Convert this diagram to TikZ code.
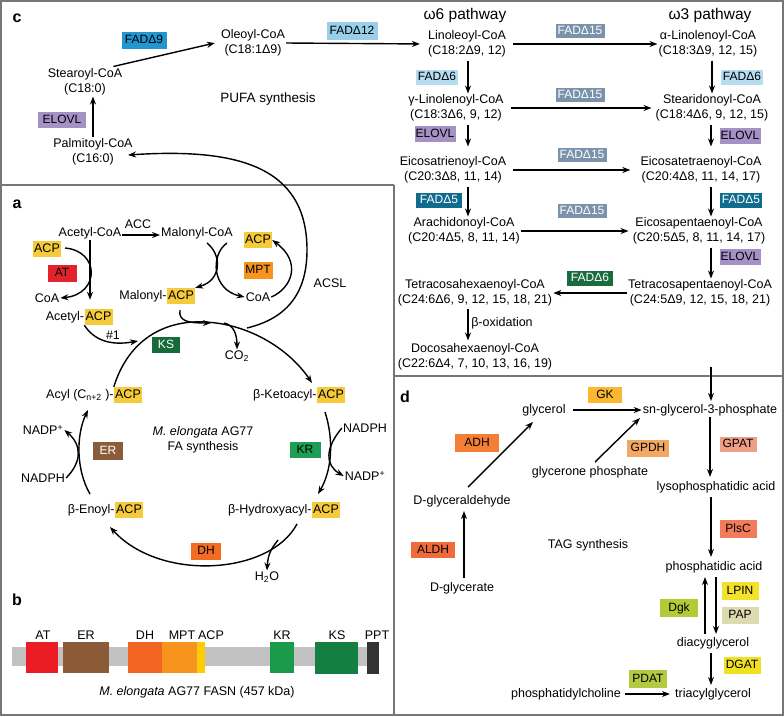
\documentclass[tikz,border=0pt]{standalone}
\usepackage{fontspec}
\setmainfont{Liberation Sans}
\usetikzlibrary{arrows.meta}
\definecolor{framegray}{HTML}{767676}
\definecolor{acpy}{HTML}{F6CB3B}
\definecolor{atc}{HTML}{E3232B}
\definecolor{mptc}{HTML}{F7941E}
\definecolor{ksc}{HTML}{156B3A}
\definecolor{krc}{HTML}{1E9E55}
\definecolor{erc}{HTML}{8B5C3B}
\definecolor{dhc}{HTML}{F26C24}
\definecolor{fadnine}{HTML}{2396D0}
\definecolor{fadtwelve}{HTML}{98CFE9}
\definecolor{elovlc}{HTML}{A691C6}
\definecolor{fadfifteen}{HTML}{7A93AA}
\definecolor{fadsixl}{HTML}{B5DCF0}
\definecolor{fadfive}{HTML}{106C8E}
\definecolor{fadsixd}{HTML}{1A6B3E}
\definecolor{gkc}{HTML}{FBB72F}
\definecolor{adhc}{HTML}{F47F34}
\definecolor{gpdhc}{HTML}{F2A862}
\definecolor{gpatc}{HTML}{EF9F86}
\definecolor{aldhc}{HTML}{F06A3B}
\definecolor{plscc}{HTML}{F27B5C}
\definecolor{lpinc}{HTML}{F2E22C}
\definecolor{papc}{HTML}{DDDAB0}
\definecolor{dgkc}{HTML}{B4CB38}
\definecolor{dgatc}{HTML}{EFE121}
\definecolor{pdatc}{HTML}{B3C93F}
\definecolor{bAT}{HTML}{EC1C24}
\definecolor{bER}{HTML}{8B5A36}
\definecolor{bDH}{HTML}{F26522}
\definecolor{bMPT}{HTML}{F7941D}
\definecolor{bACP}{HTML}{FFCB05}
\definecolor{bKR}{HTML}{1B9A4B}
\definecolor{bKS}{HTML}{138041}
\definecolor{bPPT}{HTML}{333333}
\definecolor{bargray}{HTML}{C2C2C2}
\begin{document}
\begin{tikzpicture}[x=1pt,y=-1pt,
  txt/.style={font=\fontsize{12.5}{15}\selectfont, align=center, inner sep=1pt},
  enz/.style={font=\fontsize{12}{13}\selectfont, inner sep=0pt, minimum width=30pt, minimum height=16pt, text height=8.8pt, text depth=2pt},
  acp/.style={fill=acpy, font=\fontsize{12.5}{15}\selectfont, inner sep=0pt, minimum width=28pt, minimum height=16pt, text height=9pt, text depth=2.5pt},
  arr/.style={-{Stealth[length=8pt,width=6pt]}, line width=1.4pt},
  lab/.style={font=\fontsize{16}{18}\selectfont\bfseries, inner sep=0pt},
  frameln/.style={draw=framegray, line width=2pt}
]
\useasboundingbox (0,0) rectangle (784,716);
\fill[white] (0,0) rectangle (784,716);
% frames
\draw[frameln] (1,1) rectangle (783,715);
\draw[frameln] (0,185) -- (394,185);
\draw[frameln] (394,185) -- (394,716);
\draw[frameln] (394,376) -- (784,376);

% ================= panel c =================
\node[lab] (labc) at (17,18) {c};
\node[enz, fill=fadnine, minimum width=45pt, minimum height=17pt] (e9) at (144,40) {FADΔ9};
\node[txt] (oleoyl) at (253,43) {Oleoyl-CoA\\(C18:1Δ9)};
\node[txt] (stearoyl) at (85,82) {Stearoyl-CoA\\(C18:0)};
\node[enz, fill=elovlc, minimum width=48pt] (el1) at (62,120) {ELOVL};
\node[txt] (palm) at (93,152) {Palmitoyl-CoA\\(C16:0)};
\node[txt, font=\fontsize{13.5}{16}\selectfont] (pufa) at (268,99) {PUFA synthesis};
\node[enz, fill=fadtwelve, minimum width=51pt, minimum height=18pt] (e12) at (352,31) {FADΔ12};

\draw[arr] ([xshift=-10pt,yshift=1pt]stearoyl.north east) -- ([xshift=-5pt]oleoyl.west);
\draw[arr] (palm.north) -- (palm.north |- stearoyl.south);

\node[txt, font=\fontsize{15.5}{18}\selectfont] (w6) at (465,15) {ω6 pathway};
\node[txt, font=\fontsize{15.5}{18}\selectfont] (w3) at (710,15) {ω3 pathway};
\node[txt] (lin) at (467,44) {Linoleoyl-CoA\\(C18:2Δ9, 12)};
\node[txt] (alin) at (708,44) {α-Linolenoyl-CoA\\(C18:3Δ9, 12, 15)};
\node[txt] (glin) at (456,108) {γ-Linolenoyl-CoA\\(C18:3Δ6, 9, 12)};
\node[txt] (stear) at (712,108) {Stearidonoyl-CoA\\(C18:4Δ6, 9, 12, 15)};
\node[txt] (etri) at (453,170) {Eicosatrienoyl-CoA\\(C20:3Δ8, 11, 14)};
\node[txt] (etet) at (701,170) {Eicosatetraenoyl-CoA\\(C20:4Δ8, 11, 14, 17)};
\node[txt] (arach) at (464,231) {Arachidonoyl-CoA\\(C20:4Δ5, 8, 11, 14)};
\node[txt] (epa) at (699,231) {Eicosapentaenoyl-CoA\\(C20:5Δ5, 8, 11, 14, 17)};
\node[txt] (tpa) at (700,293) {Tetracosapentaenoyl-CoA\\(C24:5Δ9, 12, 15, 18, 21)};
\node[txt] (tha) at (475,293) {Tetracosahexaenoyl-CoA\\(C24:6Δ6, 9, 12, 15, 18, 21)};
\node[txt] (dha) at (475,357) {Docosahexaenoyl-CoA\\(C22:6Δ4, 7, 10, 13, 16, 19)};
\node[txt] (boxi) at (502,323) {β-oxidation};

\draw[arr, shorten >=7pt] (oleoyl.east) -- (lin.west);

\node[enz, fill=fadfifteen, text=white, minimum width=49pt, minimum height=14pt] (f15a) at (580,31) {FADΔ15};
\node[enz, fill=fadfifteen, text=white, minimum width=49pt, minimum height=14pt] (f15b) at (580,95) {FADΔ15};
\node[enz, fill=fadfifteen, text=white, minimum width=49pt, minimum height=14pt] (f15c) at (582,155) {FADΔ15};
\node[enz, fill=fadfifteen, text=white, minimum width=49pt, minimum height=14pt] (f15d) at (582,211) {FADΔ15};
\node[enz, fill=fadsixl, minimum width=42pt, minimum height=15pt] (f6a) at (437,77) {FADΔ6};
\node[enz, fill=fadsixl, minimum width=42pt, minimum height=15pt] (f6b) at (742,77) {FADΔ6};
\node[enz, fill=elovlc, minimum width=41pt] (el2) at (435,134) {ELOVL};
\node[enz, fill=elovlc, minimum width=41pt] (el3) at (740,136) {ELOVL};
\node[enz, fill=fadfive, text=white, minimum width=46pt, minimum height=15pt] (f5a) at (439,200) {FADΔ5};
\node[enz, fill=fadfive, text=white, minimum width=42pt, minimum height=15pt] (f5b) at (741,200) {FADΔ5};
\node[enz, fill=elovlc, minimum width=41pt] (el4) at (740,257) {ELOVL};
\node[enz, fill=fadsixd, text=white, minimum width=46pt, minimum height=15pt] (f6d) at (590,278) {FADΔ6};

% horizontal arrows
\draw[arr, shorten <=6pt] (lin.east) -- (alin.west);
\draw[arr, shorten <=6pt, shorten >=3pt] (glin.east) -- (glin.east -| stear.west);
\draw[arr, shorten <=6pt, shorten >=9pt] (etri.east) -- (etri.east -| etet.west);
\draw[arr, shorten >=3pt] (arach.east) -- (arach.east -| epa.west);
\draw[arr] (tpa.west) -- (tpa.west -| tha.east);
% vertical arrows left
\draw[arr, shorten <=2pt] ([xshift=1pt]lin.south) -- ([xshift=1pt]lin.south |- glin.north);
\draw[arr, shorten <=2pt, shorten >=9pt] ([xshift=12pt]glin.south) -- ([xshift=12pt]glin.south |- etri.north);
\draw[arr, shorten <=2pt] ([xshift=15pt]etri.south) -- ([xshift=15pt]etri.south |- arach.north);
\draw[arr, shorten <=1pt, shorten >=2pt] ([xshift=-7pt]tha.south) -- ([xshift=-7pt]tha.south |- dha.north);
% vertical arrows right
\draw[arr, shorten <=2pt] ([xshift=4pt]alin.south) -- ([xshift=4pt]alin.south |- stear.north);
\draw[arr, shorten <=2pt, shorten >=9pt] ([xshift=-1pt]stear.south) -- ([xshift=-1pt]stear.south |- etet.north);
\draw[arr, shorten <=2pt] ([xshift=10pt]etet.south) -- ([xshift=10pt]etet.south |- epa.north);
\draw[arr, shorten <=2pt] ([xshift=12pt]epa.south) -- ([xshift=12pt]epa.south |- tpa.north);

% ================= panel a =================
\node[lab] (laba) at (17,204) {a};
\node[txt] (acoa) at (90,233) {Acetyl-CoA};
\node[txt] (mcoa) at (197,233) {Malonyl-CoA};
\node[txt] (acc) at (138,224) {ACC};
\draw[arr] ([yshift=-2pt]acoa.east) -- ([yshift=-2pt]mcoa.west);

\node[acp] (acpL) at (47,249) {ACP};
\node[acp] (acpR) at (258,240) {ACP};
\node[enz, fill=atc, minimum width=29pt, minimum height=17pt] (at) at (62,273) {AT};
\node[enz, fill=mptc, minimum width=29pt, minimum height=17pt] (mpt) at (258,270) {MPT};
\node[txt] (coaL) at (47,298) {CoA};
\node[txt] (coaR) at (258,297) {CoA};
\node[acp] (aacp) at (98.5,317) {ACP};
\node[txt, anchor=east, inner sep=0pt] (aacpt) at (aacp.west) {Acetyl-};
\node[acp] (macp) at (181,296) {ACP};
\node[txt, anchor=east, inner sep=0pt] (macpt) at (macp.west) {Malonyl-};
\node[enz, fill=ksc, text=white, minimum width=28pt] (ks) at (166,345) {KS};
\node[txt] (hash) at (113,335) {\#1};
\node[txt] (co2) at (237,356) {CO\textsubscript{2}};
\node[txt] (acsl) at (330,283) {ACSL};
\node[acp] (yacp) at (128,395) {ACP};
\node[txt, anchor=east, inner sep=0pt] (yacpt) at (yacp.west) {Acyl (C\textsubscript{n+2} )-};
\node[acp] (kacp) at (331,395) {ACP};
\node[txt, anchor=east, inner sep=0pt] (kacpt) at (kacp.west) {β-Ketoacyl-};
\node[acp] (hacp) at (326,510) {ACP};
\node[txt, anchor=east, inner sep=0pt] (hacpt) at (hacp.west) {β-Hydroxyacyl-};
\node[acp] (eacp) at (129,510) {ACP};
\node[txt, anchor=east, inner sep=0pt] (eacpt) at (eacp.west) {β-Enoyl-};
\node[enz, fill=krc, minimum width=31pt] (kr) at (305,450) {KR};
\node[enz, fill=erc, text=white, minimum width=30pt, minimum height=18pt] (er) at (108,451) {ER};
\node[enz, fill=dhc, minimum width=30pt, minimum height=17pt] (dh) at (206,551) {DH};
\node[txt] (nadphR) at (365,428) {NADPH};
\node[txt] (nadpR) at (365,476) {NADP\textsuperscript{+}};
\node[txt] (nadpL) at (43,430) {NADP\textsuperscript{+}};
\node[txt] (nadphL) at (43,478) {NADPH};
\node[txt] (h2o) at (267,577) {H\textsubscript{2}O};
\node[txt] (fa) at (203,440) {\textit{M. elongata} AG77\\FA synthesis};

% loading
\draw[arr, shorten >=9pt] (acoa.south) -- (acoa.south |- aacp.north);
\draw[arr] (65,248) .. controls (100,251) and (100,294) .. (coaL.east);
\draw[arr] (207,243) .. controls (222,255) and (222,280) .. (macp.north east);
\draw[arr] (227,243) .. controls (210,255) and (212,290) .. (coaR.west);
\draw[arr] (coaR.east) .. controls (292,288) and (302,262) .. (acpR.east);
% KS arc
\draw[arr] (yacp.north west) .. controls (130,335) and (170,320) .. (205,322)
   .. controls (250,324) and (290,350) .. (312,383);
\draw[arr] (aacp.south west) .. controls (94,340) and (110,346) .. (138,341);
\draw[arr] (180,310) .. controls (178,322) and (190,323) .. (211,323);
\draw[arr] (224,323) .. controls (234,325) and (237,335) .. (co2.north);
% ACSL
\draw[arr] (247,328) .. controls (280,320) and (307,300) .. (307,250)
   .. controls (307,165) and (235,148) .. (128,155);
% KR
\draw[arr] (325,412) .. controls (334,440) and (332,470) .. (318,494);
\draw[arr] (nadphR.west) .. controls (325,448) and (325,465) .. (nadpR.west);
% DH
\draw[arr] (297,524) .. controls (270,575) and (160,582) .. (110,527);
\draw[arr] (278,540) .. controls (272,548) and (268,553) .. (h2o.north);
% ER
\draw[arr] (90,494) .. controls (76,470) and (76,435) .. (88,410);
\draw[arr] (nadphL.east) .. controls (82,462) and (82,445) .. (nadpL.east);

% ================= panel b =================
\node[lab] (labb) at (17,600) {b};
\fill[bargray] (12,647) rectangle (378,666);
\fill[bAT] (26,642) rectangle (58,673);
\fill[bER] (63,642) rectangle (109,673);
\fill[bDH] (128,642) rectangle (162,673);
\fill[bMPT] (162,642) rectangle (197,673);
\fill[bACP] (197,642) rectangle (205,673);
\fill[bKR] (270,642) rectangle (294,673);
\fill[bKS] (315,642) rectangle (358,674);
\fill[bPPT] (367,642) rectangle (379,674);
\node[txt] (tAT) at (43,635) {AT};
\node[txt] (tER) at (86,635) {ER};
\node[txt] (tDH) at (145,635) {DH};
\node[txt] (tMPT) at (182,635) {MPT};
\node[txt] (tACP) at (211,635) {ACP};
\node[txt] (tKR) at (282,635) {KR};
\node[txt] (tKS) at (337,635) {KS};
\node[txt] (tPPT) at (377,635) {PPT};
\node[txt] (fasn) at (197,692) {\textit{M. elongata} AG77 FASN (457 kDa)};

% ================= panel d =================
\node[lab] (labd) at (405,397) {d};
\node[enz, fill=gkc, minimum width=34pt] (gk) at (605,395) {GK};
\node[txt] (glycerol) at (544,410) {glycerol};
\node[txt] (g3p) at (710,410) {sn-glycerol-3-phosphate};
\node[enz, fill=adhc, minimum width=44pt, minimum height=18pt] (adh) at (477,443) {ADH};
\node[enz, fill=gpdhc, minimum width=42pt, minimum height=17pt] (gpdh) at (648,448) {GPDH};
\node[txt] (gp) at (590,472) {glycerone phosphate};
\node[enz, fill=gpatc, minimum width=37pt, minimum height=15pt] (gpat) at (738,444) {GPAT};
\node[txt] (lpa) at (716,487) {lysophosphatidic acid};
\node[txt] (dgald) at (462,501) {D-glyceraldehyde};
\node[enz, fill=aldhc, minimum width=44pt] (aldh) at (433,550) {ALDH};
\node[txt] (dglyc) at (462,588) {D-glycerate};
\node[txt] (tags) at (588,545) {TAG synthesis};
\node[enz, fill=plscc, minimum width=37pt, minimum height=18pt] (plsc) at (738,529) {PlsC};
\node[txt] (pa) at (714,567) {phosphatidic acid};
\node[enz, fill=lpinc, minimum width=37pt, minimum height=18pt] (lpin) at (740,591) {LPIN};
\node[enz, fill=papc, minimum width=37pt, minimum height=17pt] (pap) at (740,615) {PAP};
\node[enz, fill=dgkc, minimum width=38pt, minimum height=18pt] (dgk) at (679,608) {Dgk};
\node[txt] (dag) at (713,643) {diacyglycerol};
\node[enz, fill=dgatc, minimum width=37pt, minimum height=17pt] (dgat) at (742,665) {DGAT};
\node[enz, fill=pdatc, minimum width=38pt, minimum height=18pt] (pdat) at (648,679) {PDAT};
\node[txt] (pc) at (566,694) {phosphatidylcholine};
\node[txt] (tg) at (713,694) {triacylglycerol};

\coordinate (cdstart) at (711,367);
\draw[arr, shorten >=2pt] (cdstart) -- (cdstart |- g3p.north);
\draw[arr, shorten <=6pt] (glycerol.east) -- (g3p.west);
\draw[arr] (468,487) -- (533,422);
\draw[arr] (595,462) -- (640,418);
\draw[arr, shorten >=3pt] (g3p.south) -- (g3p.south |- lpa.north);
\draw[arr, shorten <=3pt, shorten >=3pt] ([xshift=-5pt]lpa.south) -- ([xshift=-5pt]lpa.south |- pa.north);
\draw[arr, shorten <=3pt, shorten >=2pt] ([xshift=2pt]pa.south) -- ([xshift=2pt]pa.south |- dag.north);
\draw[arr, shorten <=2pt, shorten >=3pt] ([xshift=-8pt]dag.north) -- ([xshift=-8pt]dag.north |- pa.south);
\draw[arr, shorten <=3pt, shorten >=2pt] ([xshift=-2pt]dag.south) -- ([xshift=-2pt]dag.south |- tg.north);
\draw[arr, shorten <=3pt, shorten >=4pt] (pc.east) -- (tg.west);
\draw[arr, shorten <=3pt, shorten >=3pt] ([xshift=2pt]dglyc.north) -- ([xshift=2pt]dglyc.north |- dgald.south);
\end{tikzpicture}
\end{document}
